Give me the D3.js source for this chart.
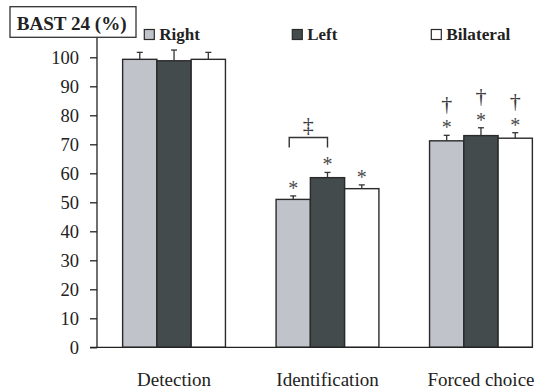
<!DOCTYPE html>
<html>
<head>
<meta charset="utf-8">
<script src="https://cdn.jsdelivr.net/npm/d3@7"></script>
<style>
  html, body { margin: 0; padding: 0; background: #fff; }
  svg { display: block; }
  svg text { font-family: "Liberation Serif", "Times New Roman", serif !important; fill: #222; }
</style>
</head>
<body>
<svg id="chart" width="554" height="390"></svg>
<script>
// ---- data ----
const categories = ["Detection", "Identification", "Forced choice"];
const seriesNames = ["Right", "Left", "Bilateral"];
const rightValues = [99.3, 51.0, 71.2];
const rightErrors = [2.4, 1.2, 1.9];
const leftValues = [98.8, 58.5, 73.0];
const leftErrors = [3.7, 1.8, 2.7];
const bilateralValues = [99.3, 54.7, 72.1];
const bilateralErrors = [2.4, 1.3, 1.9];
const yTicks = [0, 10, 20, 30, 40, 50, 60, 70, 80, 90, 100];
const yTitle = "BAST 24 (%)";
// significance markers: [category index, series index]
const asteriskMarks = [[1, 0], [1, 1], [1, 2], [2, 0], [2, 1], [2, 2]];
const daggerMarks = [[2, 0], [2, 1], [2, 2]];
const bracketMark = { category: 1, from: 0, to: 1, symbol: "‡" };

const colors = ["#c1c3ca", "#434b4c", "#ffffff"];

const svg = d3.select("#chart");
const axisX = 97, y0px = 347.3, y100px = 57.3;
const serif = '"Liberation Serif", "Times New Roman", serif';

const y = d3.scaleLinear().domain([0, 100]).range([y0px, y100px]);
const x0 = d3.scaleBand().domain(categories).range([axisX, 558])
  .paddingInner(0.33).paddingOuter(0.167);
const x1 = d3.scaleBand().domain(seriesNames).range([0, x0.bandwidth()]).padding(0);
const color = d3.scaleOrdinal().domain(seriesNames).range(colors);

const values = [rightValues, leftValues, bilateralValues];
const errors = [rightErrors, leftErrors, bilateralErrors];
const data = [];
categories.forEach((c, ci) => seriesNames.forEach((s, si) => {
  data.push({ ci, si, cat: c, series: s, v: values[si][ci], e: errors[si][ci] });
}));
const bx = d => x0(d.cat) + x1(d.series);
const cx = d => bx(d) + x1.bandwidth() / 2;

// bars
svg.append("g").selectAll("rect").data(data).join("rect")
  .attr("x", bx)
  .attr("y", d => y(d.v))
  .attr("width", x1.bandwidth())
  .attr("height", d => y(0) - y(d.v))
  .attr("fill", d => color(d.series))
  .attr("stroke", "#2a2a2a")
  .attr("stroke-width", 1.4);

// error bars
const eg = svg.append("g").attr("stroke", "#333").attr("stroke-width", 1.3);
eg.selectAll("line.v").data(data).join("line").attr("class", "v")
  .attr("x1", cx).attr("x2", cx)
  .attr("y1", d => y(d.v)).attr("y2", d => y(d.v + d.e));
eg.selectAll("line.c").data(data).join("line").attr("class", "c")
  .attr("x1", d => cx(d) - 3).attr("x2", d => cx(d) + 3)
  .attr("y1", d => y(d.v + d.e)).attr("y2", d => y(d.v + d.e));

// y axis
const yAxis = d3.axisLeft(y).tickValues(yTicks).tickSize(7).tickPadding(11).tickSizeOuter(0);
const gy = svg.append("g").attr("transform", `translate(${axisX},0)`).call(yAxis)
  .attr("font-family", serif);
gy.select(".domain").remove();
gy.selectAll(".tick line").attr("stroke", "#222").attr("stroke-width", 1.3);
gy.selectAll(".tick text").attr("font-size", 18.5).style("font-family", serif).attr("fill", "#222");
svg.append("line").attr("x1", axisX).attr("x2", axisX).attr("y1", 37.3).attr("y2", y(0))
  .attr("stroke", "#222").attr("stroke-width", 1.3);

// x axis
const lastCat = categories[categories.length - 1];
svg.append("line").attr("x1", axisX - 7).attr("x2", x0(lastCat) + x0.bandwidth())
  .attr("y1", y(0)).attr("y2", y(0)).attr("stroke", "#222").attr("stroke-width", 1.3);
const xAxis = d3.axisBottom(x0).tickSize(0).tickPadding(0);
const gx = svg.append("g").attr("transform", `translate(0,${y(0)})`).call(xAxis)
  .attr("font-family", serif);
gx.select(".domain").remove();
gx.selectAll(".tick text").attr("font-size", 19).style("font-family", serif)
  .attr("fill", "#222").attr("dy", null).attr("y", 39);

// significance marks
const byKey = (ci, si) => data.find(d => d.ci === ci && d.si === si);
svg.append("g").selectAll("text")
  .data(asteriskMarks.map(m => byKey(m[0], m[1]))).join("text")
  .attr("x", cx).attr("y", d => y(d.v + d.e) - 1)
  .attr("text-anchor", "middle").attr("font-size", 20).style("fill", "#4a4a4a")
  .text("*");
svg.append("g").selectAll("text")
  .data(daggerMarks.map(m => byKey(m[0], m[1]))).join("text")
  .attr("x", cx).attr("y", d => y(d.v + d.e) - 24.5)
  .attr("text-anchor", "middle").attr("font-size", 22).style("fill", "#3a3a3a")
  .text("†");

// bracket with double dagger
{
  const a = byKey(bracketMark.category, bracketMark.from);
  const b = byKey(bracketMark.category, bracketMark.to);
  const top = y(b.v + b.e) - 35;
  const xa = cx(a) - 4, xb = cx(b);
  svg.append("path")
    .attr("d", `M${xa},${top + 10}V${top}H${xb}V${top + 10}`)
    .attr("fill", "none").attr("stroke", "#333").attr("stroke-width", 1.4);
  svg.append("text").attr("x", (xa + xb) / 2).attr("y", top - 5)
    .attr("text-anchor", "middle").attr("font-size", 22).style("fill", "#3a3a3a")
    .text(bracketMark.symbol);
}

// title box
svg.append("rect").attr("x", 10).attr("y", 6.7).attr("width", 126).attr("height", 30.6)
  .attr("fill", "#fff").attr("stroke", "#333").attr("stroke-width", 1.3);
svg.append("text").attr("x", 16.7).attr("y", 30).attr("font-size", 18).attr("font-weight", "bold")
  .attr("textLength", 110).attr("lengthAdjust", "spacingAndGlyphs").text(yTitle);

// legend
const legX = [144.3, 292.3, 431.3];
const legW = [40.7, 30, 64];
const lg = svg.append("g").selectAll("g").data(seriesNames).join("g")
  .attr("transform", (d, i) => `translate(${legX[i]},29.5)`);
lg.append("rect").attr("width", 10).attr("height", 10)
  .attr("fill", d => color(d)).attr("stroke", "#2a2a2a").attr("stroke-width", 1.2);
lg.append("text").attr("x", 15).attr("y", 10.5).attr("font-size", 16).attr("font-weight", "bold")
  .attr("textLength", (d, i) => legW[i]).attr("lengthAdjust", "spacingAndGlyphs")
  .text(d => d);
</script>
</body>
</html>
